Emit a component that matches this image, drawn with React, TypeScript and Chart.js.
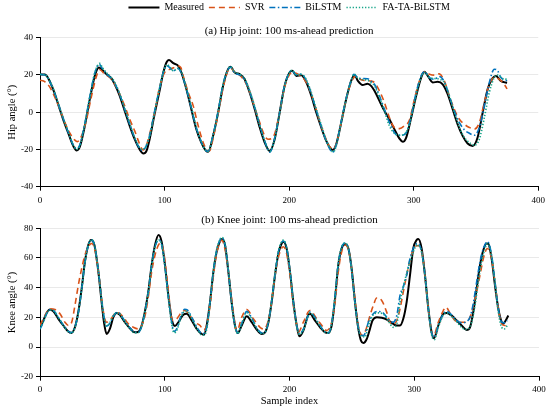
import { useEffect, useRef } from 'react'
import { Chart, registerables } from 'chart.js'

Chart.register(...registerables)

const SERIF = '"Liberation Serif", "Times New Roman", serif'

// legend / series
const seriesNames = ['Measured', 'SVR', 'BiLSTM', 'FA-TA-BiLSTM']
const seriesColors = ['#000000', '#D95319', '#0072BD', '#17A589']
const seriesWidths = [2, 1.6, 1.6, 1.7]
const seriesDashes = [[], [6, 4], [6, 2.5, 1.5, 2.5], [1.3, 1.8]]

// axis ticks
const xTicks = [0, 100, 200, 300, 400]
const hipTicks = [-40, -20, 0, 20, 40]
const kneeTicks = [-20, 0, 20, 40, 60, 80]

type Pt = [number, number] // [sample index, angle]

// (a) hip joint
const hipMeasured: Pt[] = [
  [0, 20.3], [4, 20.2], [7, 17.7], [11, 11.5], [15, 3.4], [19, -4.7], [23, -11.8], [27, -18.5], [29.5, -20.5],
  [32, -18.5], [36, -7.3], [40, 7], [44, 19.5], [47.3, 24], [49.5, 23], [53.5, 20.4], [57.5, 18], [60, 15],
  [64, 8.8], [68, 0.7], [72, -7.3], [76, -14.5], [80, -20], [83, -22.2], [85.5, -20.8], [88, -14.5], [92, -1],
  [96, 11.5], [99, 21.3], [101.5, 26.7], [103.5, 28], [107, 26.3], [111, 24.9], [113.5, 21.3], [117.5, 12.4],
  [121.5, 1.6], [125.5, -9.1], [129.5, -16.3], [133, -20.5], [135, -21.3], [139, -12.7], [143, -0.2], [147, 14.2],
  [151, 23.1], [153, 24.4], [156.3, 21.3], [160.3, 20.4], [164.3, 17.7], [168.3, 10.6], [172.4, 1.6], [176.4, -8.2],
  [180.4, -16.3], [184.4, -20.8], [188.4, -14.5], [192.4, -0.2], [196.4, 14.2], [200.4, 21.3], [202.6, 22.2],
  [205.8, 19.5], [209.8, 19.9], [213.8, 16], [217.8, 8.8], [221.8, -0.2], [225.8, -8.2], [229.8, -15.4],
  [233.8, -19.9], [235, -20.3], [237.8, -17.2], [241.8, -5.6], [245.8, 7], [249.8, 16.8], [252.5, 20],
  [255.2, 16.8], [259, 14.6], [263, 15.3], [266, 14], [268.5, 11.5], [272.5, 6.1], [276.5, 0.7], [280.5, -3.8],
  [284.5, -9.1], [288.6, -14.2], [291.2, -15.9], [294, -13.6], [298, -2.9], [302, 8.8], [306, 18.6], [308.6, 21.7],
  [311.3, 19.5], [315.3, 16], [319.3, 16.3], [323.3, 15], [327.3, 9.7], [331.3, 1.6], [335.3, -6.5], [339.3, -12.7],
  [343.3, -16.8], [347.3, -18.1], [351.3, -13.6], [355.4, -0.2], [359.4, 12.4], [363.4, 18.3], [366, 19.5],
  [370, 16.8], [374, 15.9], [375, 15.8],
]
const hipSVR: Pt[] = [
  [0, 17.2], [4, 16.3], [8, 13.3], [12, 7.9], [16, 1.6], [20, -5.6], [24, -11.3], [28, -15], [30, -15.8],
  [33.4, -12.7], [37.4, -3.8], [41.4, 8.8], [45.4, 19.5], [48, 22.8], [52, 20.4], [56, 18.6], [60, 15], [64, 9.7],
  [68, 3.4], [72, -3.8], [76, -10], [79, -15.4], [81.5, -19.5], [83, -20.3], [85, -18.5], [88, -11.8], [92, -0.2],
  [96, 13.3], [100, 21.3], [104, 23], [108, 24], [111, 24.8], [113, 24], [115, 19.5], [119, 10.6], [123, 3.4],
  [127, -7.3], [131, -16.3], [134, -20.2], [136, -20.8], [139, -14], [143, -1], [147, 13], [151, 22.5], [153, 24],
  [156, 21.5], [160, 20], [164, 17], [168.3, 11], [172.4, 2.5], [176.4, -5.6], [180.4, -12.7], [183, -14.5],
  [187, -13.6], [192.4, -0.2], [196.4, 13.5], [200.4, 20.4], [203, 21.3], [208.4, 19.9], [212.3, 17.5],
  [216.4, 12.4], [220.4, 4.3], [224.5, -4.7], [228.5, -12.7], [232.5, -18.5], [235.1, -19.9], [237.8, -17.2],
  [241.8, -5.6], [245.8, 7], [249.8, 15.9], [253.9, 19.5], [257.9, 17.4], [261.9, 17], [265, 16.8], [268.5, 15.9],
  [272.5, 11.5], [276.5, 5.2], [280.5, -2.9], [284.5, -8.2], [288.6, -8.8], [292.6, -7.3], [296.6, -4.2],
  [300.6, 7], [304.6, 16.8], [308.6, 21.7], [312.6, 20.4], [316.6, 19.9], [320.6, 20.6], [324.6, 16.8],
  [328.6, 8.8], [332.6, 1.6], [336.7, -3.8], [340.7, -6.5], [344.7, -8.2], [348.7, -9.1], [352.7, -5.6],
  [356.7, 5.2], [360.7, 15], [364.7, 18.6], [368.7, 17.7], [372.7, 15], [375, 12.5],
]
const hipBiLSTM: Pt[] = [
  [0, 20.3], [4, 20], [7, 17.5], [11, 11.5], [15, 3.8], [19, -4], [23, -11.5], [27, -18], [29.5, -19.5], [32, -17.5],
  [36, -6], [40, 8.5], [44, 21], [47.5, 25.8], [50, 23.5], [53.5, 20.5], [57.5, 18], [60, 15.5], [64, 9.5], [68, 1.5],
  [72, -6.5], [76, -14], [80, -19.5], [82, -20.5], [85, -18.5], [88, -12.5], [92, 0.5], [96, 13], [99.5, 22.5],
  [101.5, 25], [104, 24], [107, 22.2], [110.5, 23.5], [113.5, 21], [117.5, 12.5], [121.5, 2], [125.5, -8.5],
  [129.5, -16], [133, -20.5], [135, -21], [139, -12], [143, 0.5], [147, 15], [151, 23], [152.8, 24.2], [156.3, 21],
  [160.3, 20], [164.3, 17.5], [168.3, 11], [172.4, 2.5], [176.4, -7], [180.4, -15.5], [184.4, -21.5], [188, -15],
  [192.4, 0], [196.4, 14.5], [200.4, 21.5], [202, 22.3], [205.8, 20], [209.8, 20.5], [213.8, 17], [217.8, 10],
  [221.8, 1], [225.8, -7.5], [229.8, -15.5], [233.8, -21], [235, -21.5], [238, -17], [241.8, -5], [245.8, 7.5],
  [249.8, 17], [252, 20.3], [255, 18.5], [259, 18.1], [263, 18], [266, 16.5], [268.5, 15], [272.5, 8.8],
  [276.5, 1.6], [280.5, -5.6], [284.5, -10.9], [287.2, -12.4], [291.2, -12.4], [294, -11], [298, -2], [302, 10.6],
  [306, 19.5], [308.6, 21.7], [312.6, 18.6], [316.6, 17.7], [320.6, 19.2], [324.6, 16.3], [328.6, 8.8],
  [332.6, 0.7], [336.7, -5.6], [340.7, -9.5], [344.7, -11.3], [348.7, -12.4], [352.7, -8.2], [356.7, 3.4],
  [360.7, 15.9], [364.7, 23.1], [367.4, 22.2], [370, 18.6], [375, 16.8],
]
const hipFATA: Pt[] = [
  [0, 20.3], [4, 20.1], [7, 17.8], [11, 12], [15, 4], [19, -4], [23, -11], [27, -18], [29.5, -20], [32, -18],
  [36, -6.5], [40, 8], [44, 21], [48, 26.2], [50, 24], [53.5, 21], [57.5, 18.5], [60, 16], [64, 10], [68, 2],
  [72, -6], [76, -13.5], [80, -19], [82, -20], [85, -18.5], [88, -13], [92, 0], [96, 13], [99.5, 22.5], [102, 25.5],
  [104.5, 24], [107, 22.3], [111, 23.5], [113.5, 21.5], [117.5, 13], [121.5, 3], [125.5, -8], [129.5, -16],
  [133, -20.5], [135, -21], [139, -12.5], [143, 0], [147, 15], [151, 23], [153, 24.5], [156.3, 21.5], [160.3, 20.5],
  [164.3, 18], [168.3, 11.5], [172.4, 3], [176.4, -7], [180.4, -15.5], [184.4, -21], [188, -15.5], [192.4, -0.5],
  [196.4, 14], [200.4, 21.5], [202.3, 22.5], [205.8, 20], [209.8, 20.3], [213.8, 17.5], [217.8, 10.5], [221.8, 1.5],
  [225.8, -7], [229.8, -15], [233.8, -20.5], [235.5, -21.3], [238, -17.5], [241.8, -5.5], [245.8, 7], [249.8, 17],
  [252.2, 20.5], [255, 18.5], [259, 17.5], [263, 17.2], [266, 15.5], [268.5, 14.2], [272.5, 7.9], [276.5, 0.7],
  [280.5, -7.3], [284.5, -11.3], [288.6, -12.4], [292.6, -11.8], [296.6, -6.5], [300.6, 5.2], [304.6, 16],
  [308.6, 21.3], [312.6, 18.6], [316.6, 18.1], [320.6, 17.7], [324.6, 15.9], [328.6, 8.8], [332.6, -0.2],
  [336.7, -8.2], [340.7, -13.6], [344.7, -16.3], [348.7, -17.7], [352.7, -14.5], [356.7, -2.9], [360.7, 10.6],
  [364.7, 18.6], [367.4, 19.9], [371.4, 18.1], [375, 17.7],
]

// (b) knee joint
const kneeMeasured: Pt[] = [
  [0, 13.3], [2.7, 17.9], [5.3, 23], [8, 25.3], [10.7, 24], [14.7, 19], [18.7, 14.5], [22.7, 10.4], [25, 9.5],
  [28, 13.3], [30.7, 23.5], [33.4, 39.3], [36, 57.4], [38.7, 68.7], [41, 72.1], [43.6, 68.7], [46.8, 50.6],
  [49.4, 30.3], [51.3, 16.7], [53.4, 8.8], [56, 12.2], [58.8, 20.1], [61.5, 23], [64, 21.7], [68, 16.7], [72, 12.7],
  [76, 9.9], [79, 10.4], [81.5, 14.5], [84, 23.5], [86.8, 37.1], [89.5, 55.1], [92.2, 68.7], [95, 75.5], [97.5, 71],
  [100.2, 55.1], [102.9, 34.8], [105.5, 19], [108.2, 14.2], [110.9, 16.7], [114.9, 21.7], [117.6, 22.4],
  [121.6, 17.9], [125.6, 12.2], [129.6, 8.8], [131.5, 8.2], [133.6, 14.5], [136.3, 30.3], [139, 50.6],
  [141.6, 64.2], [144.3, 71.4], [145.6, 72.8], [148.3, 68.7], [151, 50.6], [153.6, 30.3], [156.3, 14.5],
  [158.5, 9.5], [161.7, 14.5], [165.7, 20.8], [169.7, 16.7], [173.7, 11.8], [177.7, 8.8], [180.4, 9.9],
  [183.1, 16.7], [185.7, 30.3], [188.4, 48.4], [191.1, 63.1], [193.7, 69.8], [195.1, 71], [197.7, 66.4],
  [200.4, 50.6], [203.1, 30.3], [205.8, 14.5], [207.9, 7.2], [211.1, 11.1], [215.1, 21.7], [216.4, 22.4],
  [220.4, 17.9], [224.5, 13.3], [228.5, 9.9], [231.1, 9.5], [233.8, 14.5], [236.5, 32.5], [239.1, 55.1],
  [241.8, 66.4], [244.5, 69.2], [247.2, 66.4], [249.8, 52.9], [252.5, 30.3], [255.2, 12.2], [257.3, 4.3],
  [259.2, 2.7], [261.9, 5.4], [264.5, 12.2], [266.5, 17.9], [270, 20.1], [274, 19.7], [278, 18.5], [282, 16.3],
  [286, 14.5], [288.6, 14.5], [291.2, 19], [293.9, 30.3], [296.6, 48.4], [299.2, 66.4], [301.9, 72.1],
  [303.3, 72.8], [305.9, 66.4], [308.6, 48.4], [311.3, 25.8], [313.9, 9.9], [315.8, 5.9], [319.3, 14.5],
  [323.3, 22.4], [326, 23], [330, 21.2], [334, 17.9], [338, 14.5], [342, 11.5], [344.7, 13.3], [347.3, 23.5],
  [350, 39.3], [352.7, 55.1], [355.4, 65.3], [358, 69.8], [359.4, 69.5], [362, 59.7], [364.7, 41.6], [367.4, 25.8],
  [370.1, 16.7], [371.4, 15.6], [373.3, 17.9], [375.4, 21.2],
]
const kneeSVR: Pt[] = [
  [0, 14.5], [4, 21.2], [8, 25.8], [12, 25.3], [16, 22.4], [20, 16.7], [22.7, 14.5], [25.4, 16.7], [28, 28],
  [30.7, 41.6], [33.4, 52.9], [36, 61.9], [38.7, 67.6], [41.4, 69.8], [44, 65.3], [46.8, 50.6], [49.4, 32.5],
  [51.6, 20.1], [53.4, 16.7], [56, 17.9], [60, 22.4], [62.8, 23], [66.8, 20.1], [70.8, 15.6], [74.8, 13.3],
  [78.8, 12.2], [81.5, 14.5], [84.2, 21.2], [86.8, 33.7], [89.5, 50.6], [92.2, 61.9], [94.9, 68.7], [96.2, 69.8],
  [98.9, 65.3], [101.5, 48.4], [104.2, 28], [106.1, 17.9], [109.6, 19], [113.6, 23.5], [116.2, 24.6],
  [120.2, 21.2], [124.2, 16.7], [128.3, 14.5], [131, 11.5], [133.6, 14.5], [136.3, 28], [139, 48], [141.6, 63],
  [144, 70], [145.6, 72], [148.3, 66], [152.3, 41.6], [155, 23.5], [157.7, 10.4], [161.7, 20.1], [165.7, 25.3],
  [171, 19], [176.4, 13.3], [179, 12.2], [181.7, 14.5], [184.4, 23.5], [187, 39.3], [189.7, 55.1], [192.4, 64.2],
  [195.1, 67.6], [197.7, 63], [200.4, 48.4], [203.1, 28], [205.8, 14.5], [207.1, 9.9], [211.1, 16.7],
  [216.4, 24.6], [221.8, 19], [227.1, 13.3], [229.8, 11.1], [233.8, 16.7], [236.5, 30.3], [239.1, 50.6],
  [241.8, 64.2], [245, 68.7], [247.7, 64.2], [250.4, 48.4], [253, 28], [255.7, 12.2], [258.7, 7.7], [261.9, 13.3],
  [264.5, 21.2], [267.2, 28], [269.9, 33], [273.9, 31.4], [277.9, 23.5], [280.5, 16.7], [283.2, 15.6], [286, 17.9],
  [288.6, 25.8], [291.2, 37.1], [293.9, 48.4], [296.6, 58.5], [299.2, 65.3], [301.9, 68.2], [303.8, 68.2],
  [307, 59.7], [309.9, 37.1], [312.6, 16.7], [315.3, 7.2], [319.3, 16.7], [323.3, 24.6], [325.4, 26.9],
  [328.6, 23], [332.6, 17.9], [336.7, 16.7], [340.7, 16.7], [344.7, 20.1], [348.7, 32.5], [352.7, 48.4],
  [355.4, 59.7], [358.6, 66.4], [362, 59.7], [364.7, 43.8], [367.4, 25.8], [370.1, 15.6], [372.7, 14.5],
  [374.6, 16.7],
]
const kneeBiLSTM: Pt[] = [
  [0, 12], [3, 17.5], [5.3, 22.5], [8, 25], [11, 24.5], [15, 19.5], [19, 14.5], [23, 10.5], [25, 9.8], [28, 13.5],
  [30.7, 23], [33.4, 39], [36, 57], [38.7, 68.5], [41, 72], [43.6, 69], [46.8, 51], [49.4, 32], [51.5, 19.5],
  [53.5, 14], [56, 16], [59, 21], [61.5, 23.3], [64, 22.5], [68, 17.5], [72, 13], [76, 10], [79, 10], [81.5, 14],
  [84, 23], [86.8, 37], [89.5, 55], [92.2, 67.5], [95, 72], [97.5, 69], [100.2, 54], [102.9, 34], [105.5, 17],
  [107.5, 10.5], [110, 13], [113, 21], [116, 25.5], [118, 25], [122, 19.5], [126, 13], [130, 9], [132, 9.5],
  [134, 15], [136.3, 30.5], [139, 51], [141.6, 65], [144.3, 72], [145.6, 73.5], [148.3, 69], [151, 51],
  [153.6, 30], [156.3, 14.5], [158.5, 9.5], [161.7, 16], [165.7, 24], [169.7, 19.5], [173.7, 13], [177.7, 9.5],
  [180.4, 10], [183.1, 17], [185.7, 31], [188.4, 49], [191.1, 64], [193.7, 70.5], [195.1, 71.4], [197.7, 67],
  [200.4, 51], [203.1, 30.5], [205.8, 14.5], [208, 9], [211.1, 12], [215.1, 21.5], [216.4, 23.5], [220.4, 20],
  [224.5, 14.5], [228.5, 10], [231.1, 9.5], [233.8, 16], [236.5, 34], [239.1, 56], [241.8, 67], [244.5, 70],
  [247.2, 66.5], [249.8, 52], [252.5, 30], [255.2, 13], [257.3, 8], [259.2, 7.7], [261, 10], [263.2, 16.7],
  [267.2, 22.4], [271, 24], [275, 23], [279, 19], [283, 16.7], [286, 21.2], [288.6, 34.8], [291.2, 40.5],
  [293.9, 48.4], [296.6, 59.7], [299.2, 66.4], [302.7, 69.8], [305.9, 64.2], [308.6, 48.4], [311.3, 25.8],
  [313.9, 9.9], [315.8, 6.6], [319.3, 14.5], [323.3, 22.4], [326, 24], [330, 21.7], [334, 17.9], [338, 16.3],
  [342, 17.2], [344.7, 20.1], [347.3, 29.2], [350, 43.8], [352.7, 57.4], [355.4, 66.4], [358.8, 71], [362, 61.9],
  [364.7, 43.8], [367.4, 25.8], [370.1, 16.7], [372.7, 16.3], [374.6, 17.9],
]
const kneeFATA: Pt[] = [
  [0, 12.5], [3, 17.5], [5.3, 22.5], [8, 25], [11, 24.3], [15, 19.5], [19, 14], [23, 10], [25, 9.3], [28, 13],
  [30.7, 23], [33.4, 39], [36, 57], [38.7, 68.5], [41, 72.3], [43.6, 69], [46.8, 51], [49.4, 31.5], [51.5, 19],
  [53.5, 14], [56, 16.5], [59, 21.5], [61.5, 23], [64, 22], [68, 17], [72, 12.5], [76, 9.5], [79, 9.8], [81.5, 14],
  [84, 23], [86.8, 37], [89.5, 55], [92.2, 67.5], [95, 72.3], [97.5, 69], [100.2, 54], [102.9, 33], [105.5, 16],
  [107.5, 9.5], [110, 12], [113, 20], [116, 24], [118, 24], [122, 18.5], [126, 12], [130, 8], [132, 8.2],
  [134, 14], [136.3, 30], [139, 51], [141.6, 65.5], [144.3, 72.5], [145.6, 74], [148.3, 69.5], [151, 51.5],
  [153.6, 30], [156.3, 14], [158.5, 9], [161.7, 15.5], [165.7, 23], [169.7, 19], [173.7, 12.5], [177.7, 9],
  [180.4, 9.8], [183.1, 17], [185.7, 31], [188.4, 49.5], [191.1, 64.5], [193.7, 71], [195.1, 72], [197.7, 67],
  [200.4, 51], [203.1, 30], [205.8, 14], [208, 8.5], [211.1, 11.5], [215.1, 21], [216.4, 23], [220.4, 19.5],
  [224.5, 14], [228.5, 10], [231.1, 9.3], [233.8, 15.5], [236.5, 34], [239.1, 56.5], [241.8, 67.5], [244.5, 70],
  [247.2, 66.5], [249.8, 52], [252.5, 29.5], [255.2, 12.5], [257.3, 7.5], [259.2, 7], [260.5, 6.6],
  [263.2, 14.5], [267.2, 21.7], [271, 23], [275, 22.4], [279, 17.9], [283.2, 13.3], [286, 15.6], [288.6, 30.3],
  [291.2, 40.5], [293.9, 49.5], [296.6, 57.4], [299.2, 64.2], [302.7, 68.7], [305.9, 64], [308.6, 48.4],
  [311.3, 25.8], [313.9, 8.5], [316, 5], [319.3, 13.5], [323.3, 21.5], [326, 23], [330, 20.5], [334, 17],
  [338, 13.3], [340.7, 11.8], [343.3, 12.2], [346, 16.7], [348.7, 28], [351.3, 43.8], [354, 57.4], [356.7, 66.4],
  [358.8, 69.8], [362, 61], [364.7, 43.8], [367.4, 23.5], [370.1, 13.3], [372.2, 12.2], [374.6, 14.5],
]

interface PanelProps {
  title: string
  yLabel: string
  yTicks: number[]
  series: Pt[][]
  height: number
  plotTop: number
  plotBottom: number
  showLegend: boolean
  xTitle?: string
  xTickPad: number
}

function Panel({ title, yLabel, yTicks, series, height, plotTop, plotBottom, showLegend, xTitle, xTickPad }: PanelProps) {
  const canvasRef = useRef<HTMLCanvasElement>(null)

  useEffect(() => {
    if (!canvasRef.current) return
    const font = (size: number) => ({ family: SERIF, size, weight: 'normal' as const })

    const chart = new Chart(canvasRef.current, {
      type: 'line',
      data: {
        datasets: series.map((pts, i) => ({
          label: seriesNames[i],
          data: pts.map(([x, y]) => ({ x, y })),
          borderColor: seriesColors[i],
          backgroundColor: seriesColors[i],
          borderWidth: seriesWidths[i],
          borderDash: seriesDashes[i],
          pointRadius: 0,
          cubicInterpolationMode: 'monotone' as const,
          fill: false,
          // later series sit on top, like the original plot
          order: series.length - 1 - i,
        })),
      },
      options: {
        animation: false,
        responsive: true,
        maintainAspectRatio: false,
        events: [],
        layout: { padding: { top: showLegend ? -2.5 : 0, right: 11, left: 0, bottom: 0 } },
        scales: {
          x: {
            type: 'linear',
            min: xTicks[0],
            max: xTicks[xTicks.length - 1],
            ticks: { stepSize: xTicks[1] - xTicks[0], padding: xTickPad, font: font(9), color: '#000', maxRotation: 0 },
            grid: { drawOnChartArea: false, tickLength: 4, tickColor: '#000' },
            border: { color: '#000', width: 1 },
            title: {
              display: !!xTitle,
              text: xTitle,
              font: font(10.5),
              color: '#000',
              padding: { top: 0, bottom: 4 },
            },
            afterFit: (s: any) => { s.height = height - plotBottom },
          },
          y: {
            type: 'linear',
            min: yTicks[0],
            max: yTicks[yTicks.length - 1],
            ticks: { stepSize: yTicks[1] - yTicks[0], padding: 3, font: font(9), color: '#000' },
            grid: { color: '#e9e9e9', lineWidth: 1, tickLength: 4, tickColor: '#000' },
            border: { color: '#000', width: 1 },
            title: { display: true, text: yLabel, font: font(10.5), color: '#000', padding: { top: 5.5, bottom: 0 } },
            afterFit: (s: any) => { s.width = 40 },
          },
        },
        plugins: {
          legend: {
            display: showLegend,
            position: 'top',
            fullSize: false,
            weight: 3000,
            labels: {
              usePointStyle: true,
              pointStyle: 'line',
              pointStyleWidth: 31,
              padding: 5,
              font: font(10),
              color: '#000',
              generateLabels: (c: any) =>
                c.data.datasets.map((ds: any, i: number) => ({
                  text: ds.label,
                  fillStyle: ds.borderColor,
                  strokeStyle: ds.borderColor,
                  lineWidth: ds.borderWidth,
                  lineDash: ds.borderDash,
                  pointStyle: 'line',
                  hidden: false,
                  datasetIndex: i,
                })),
            },
          },
          title: {
            display: true,
            text: title,
            fullSize: false,
            font: font(11),
            color: '#000',
            padding: showLegend ? { top: 2, bottom: 0 } : { top: 2.4, bottom: plotTop - 2.4 - 13.2 },
          },
          tooltip: { enabled: false },
        },
      },
    })

    return () => chart.destroy()
  }, [title, yLabel, yTicks, series, height, plotTop, plotBottom, showLegend, xTitle, xTickPad])

  return (
    <div style={{ position: 'relative', width: 550, height }}>
      <canvas ref={canvasRef} />
    </div>
  )
}

export default function App() {
  return (
    <div style={{ position: 'absolute', left: 0, top: 0, width: 550, height: 412, background: '#fff' }}>
      <Panel
        title="(a) Hip joint: 100 ms-ahead prediction"
        yLabel="Hip angle (°)"
        yTicks={hipTicks}
        series={[hipMeasured, hipSVR, hipBiLSTM, hipFATA]}
        height={211}
        plotTop={39.3}
        plotBottom={186.7}
        showLegend
        xTickPad={5}
      />
      <Panel
        title="(b) Knee joint: 100 ms-ahead prediction"
        yLabel="Knee angle (°)"
        yTicks={kneeTicks}
        series={[kneeMeasured, kneeSVR, kneeBiLSTM, kneeFATA]}
        height={201}
        plotTop={17.3}
        plotBottom={165.7}
        showLegend={false}
        xTitle="Sample index"
        xTickPad={3.5}
      />
    </div>
  )
}
